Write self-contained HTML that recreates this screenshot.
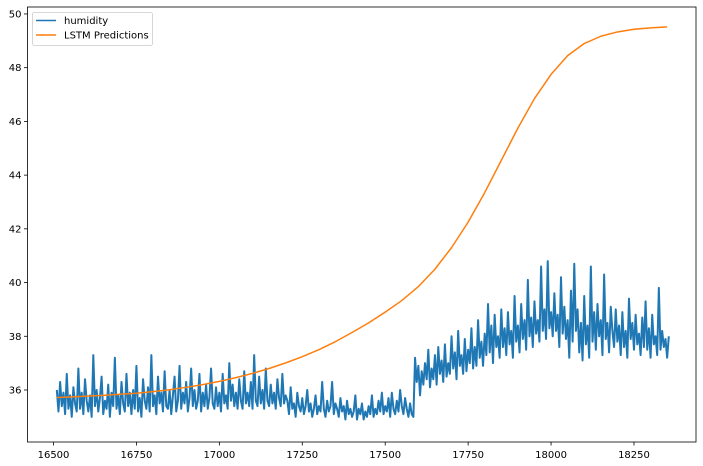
<!DOCTYPE html>
<html><head><meta charset="utf-8"><style>
html,body{margin:0;padding:0;background:#fff;}
svg{display:block;font-family:"DejaVu Sans","Liberation Sans",sans-serif;}
</style></head><body>
<svg id="chart" width="703" height="466" viewBox="0 0 703 466"></svg>
<script>
const xTicks=[16500,16750,17000,17250,17500,17750,18000,18250];
const yTicks=[36,38,40,42,44,46,48,50];
const humStart=16510, humStep=5;
const humidity=[
36.0,35.2,36.3,35.4,35.9,35.1,36.6,35.3,35.8,35.0,36.1,35.5,35.2,36.8,35.3,35.9,35.1,36.4,35.6,35.2,
35.8,35.0,37.3,35.4,36.0,35.2,35.7,36.5,35.1,35.6,35.3,36.2,35.0,35.9,35.4,37.2,35.3,35.8,35.1,36.3,
35.5,35.2,36.6,35.4,35.9,35.1,36.0,35.3,36.9,35.2,35.7,35.0,36.4,35.6,35.3,36.1,35.2,37.3,35.4,35.8,
35.1,36.5,35.5,35.9,35.2,36.7,35.4,35.3,36.0,35.1,35.8,36.5,35.2,35.6,36.9,35.3,35.9,35.5,36.3,35.2,
35.7,36.8,35.4,36.0,35.3,35.6,36.6,35.2,35.9,35.4,36.2,35.3,35.7,36.8,35.5,35.3,36.1,35.4,35.9,35.2,
36.6,35.5,35.8,35.3,37.0,35.6,36.2,35.4,35.9,35.3,36.4,35.6,35.3,36.7,35.5,35.9,35.4,36.3,35.3,37.3,
35.6,35.4,36.5,35.5,36.0,35.3,36.8,35.6,35.4,36.2,35.5,35.9,35.3,36.4,35.7,35.4,36.6,35.5,35.8,
35.6,35.1,36.1,35.3,35.5,35.0,35.9,35.4,35.2,35.7,35.1,35.4,36.0,35.2,35.5,35.0,35.3,35.8,35.1,35.4,
35.2,36.3,35.3,35.0,35.6,35.2,35.4,36.3,35.1,35.5,35.3,35.0,35.7,35.2,35.4,34.9,35.6,35.1,35.3,35.0,
35.2,35.8,34.9,35.3,35.1,35.5,34.9,35.2,35.0,35.4,35.1,35.8,35.0,35.3,35.1,35.6,35.2,35.9,35.1,35.4,
35.2,35.7,35.0,35.9,35.3,35.1,35.6,35.2,36.0,35.4,35.1,35.7,35.3,35.0,35.5,35.1,35.0,
37.2,36.3,36.9,35.8,36.7,36.2,37.0,36.4,37.5,36.1,36.8,36.4,37.3,36.2,37.6,36.6,37.1,36.3,37.7,36.5,
37.0,36.6,38.0,36.8,37.4,36.4,38.2,36.9,37.3,36.6,37.9,36.7,37.5,37.0,38.3,36.8,37.6,36.9,38.6,37.2,
37.8,36.9,38.1,37.3,
39.2,37.4,38.4,37.0,38.8,37.6,38.0,37.2,39.0,37.6,38.3,37.3,38.9,37.7,38.2,37.2,39.5,37.8,38.4,37.4,
39.2,37.9,38.6,37.5,40.1,38.0,38.7,37.6,39.3,38.1,38.6,37.8,40.6,38.2,39.0,37.9,40.8,38.3,38.9,38.0,
39.6,38.2,38.8,37.6,40.2,38.1,39.1,37.9,38.6,37.2,39.7,37.8,40.7,38.2,39.0,37.4,38.5,37.1,39.5,37.7,
38.4,37.2,40.6,37.8,38.9,37.5,39.2,38.0,38.6,37.3,40.3,37.9,38.5,37.4,39.1,38.2,37.6,39.0,37.8,38.4,
37.3,38.9,37.6,38.2,37.2,39.4,37.9,38.5,37.5,38.8,37.7,38.1,37.3,38.7,37.6,39.3,37.5,38.3,37.2,38.8,
37.7,38.0,37.3,39.8,37.5,38.2,37.6,37.9,37.2,38.0];
const predX=[16510,16550,16600,16650,16700,16750,16800,16850,16900,16950,17000,17050,17100,17150,17200,17250,17300,17350,17400,17450,17500,17550,17600,17650,17700,17750,17800,17850,17900,17950,18000,18050,18100,18150,18200,18250,18300,18350];
const predY=[35.72,35.74,35.77,35.80,35.84,35.88,35.94,36.01,36.10,36.20,36.32,36.46,36.62,36.80,37.01,37.24,37.50,37.80,38.14,38.50,38.90,39.33,39.85,40.50,41.30,42.25,43.35,44.55,45.75,46.85,47.75,48.45,48.90,49.17,49.33,49.43,49.48,49.52];

const NS="http://www.w3.org/2000/svg";
const svg=document.getElementById('chart');
const L=27.5,R=696,T=7,B=442;
const xS=v=>53.5+(v-16500)*0.3317;
const yS=v=>390-(v-36)*26.86;
function mk(tag,attrs,parent){const e=document.createElementNS(NS,tag);for(const k in attrs)e.setAttribute(k,attrs[k]);(parent||svg).appendChild(e);return e;}

xTicks.forEach(t=>{
  const x=xS(t);
  const tk=mk('line',{x1:x,x2:x,y1:B,y2:B+3.5,stroke:'#000','stroke-width':0.8});
  
  
  const tx=mk('text',{x:x,y:B+16,'font-size':10,'text-anchor':'middle',fill:'#000'});
  tx.textContent=t;
  
  
});
yTicks.forEach(t=>{
  const y=yS(t);
  const tk=mk('line',{x1:L-3.5,x2:L,y1:y,y2:y,stroke:'#000','stroke-width':0.8});
  
  
  const tx=mk('text',{x:L-6,y:y+3.5,'font-size':10,'text-anchor':'end',fill:'#000'});
  tx.textContent=t;
  
  
});

let d='';
humidity.forEach((v,i)=>{d+=(i?'L':'M')+xS(humStart+i*humStep).toFixed(2)+' '+yS(v).toFixed(2);});
const hl=mk('path',{d:d,fill:'none',stroke:'#1f77b4','stroke-width':2,'stroke-linejoin':'round'});



let d2='';
predX.forEach((v,i)=>{d2+=(i?'L':'M')+xS(v).toFixed(2)+' '+yS(predY[i]).toFixed(2);});
const pl=mk('path',{d:d2,fill:'none',stroke:'#ff7f0e','stroke-width':1.5,'stroke-linejoin':'round'});



const fr=mk('rect',{x:L,y:T,width:R-L,height:B-T,fill:'none',stroke:'#000','stroke-width':0.8});



const lg=mk('g',{});


mk('rect',{x:32.5,y:12.5,width:120,height:33,rx:2,fill:'#fff','fill-opacity':0.8,stroke:'#ccc','stroke-width':0.8},lg);
const e1=mk('g',{},lg);


mk('line',{x1:36,x2:56,y1:20.5,y2:20.5,stroke:'#1f77b4','stroke-width':1.5},e1);
const t1=mk('text',{x:64,y:24,'font-size':10,fill:'#000'},e1);t1.textContent='humidity';
const e2=mk('g',{},lg);


mk('line',{x1:36,x2:56,y1:35,y2:35,stroke:'#ff7f0e','stroke-width':1.5},e2);
const t2=mk('text',{x:64,y:38.5,'font-size':10,fill:'#000'},e2);t2.textContent='LSTM Predictions';
</script>
</body></html>
